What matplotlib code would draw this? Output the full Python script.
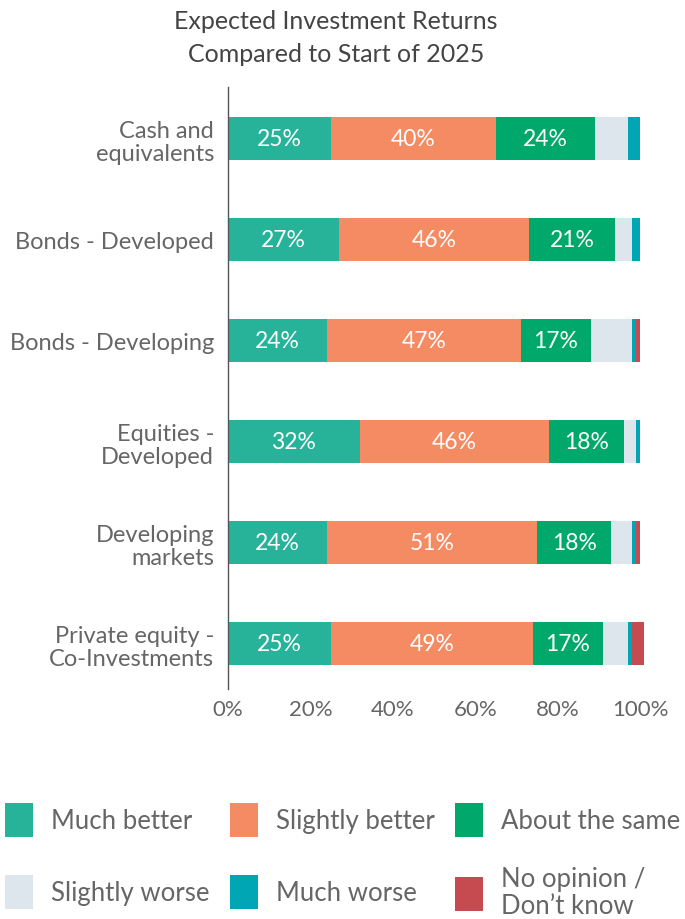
import matplotlib.pyplot as plt
import numpy as np

# Expected investment returns vs start of 2025 (percent of respondents)
categories = ["Cash and\nequivalents", "Bonds - Developed", "Bonds - Developing",
              "Equities -\nDeveloped", "Developing\nmarkets", "Private equity -\nCo-Investments"]
much_better = [25, 27, 24, 32, 24, 25]
slightly_better = [40, 46, 47, 46, 51, 49]
about_same = [24, 21, 17, 18, 18, 17]
slightly_worse = [8, 4, 10, 3, 5, 6]
much_worse = [3, 2, 1, 1, 1, 1]
no_opinion = [0, 0, 1, 0, 1, 3]

series_names = ["Much better", "Slightly better", "About the same",
                "Slightly worse", "Much worse", "No opinion /\nDon\u2019t know"]
colors = ["#26B39A", "#F58B62", "#00A86B", "#DCE6EC", "#00A6B4", "#C54B50"]
labelled = [True, True, True, False, False, False]

plt.rcParams['font.family'] = ['Lato', 'DejaVu Sans']
text_col = "#666666"

fig = plt.figure(figsize=(6.85, 9.2), dpi=100)
ax = fig.add_axes([228 / 685, 1 - 690 / 920, 412 / 685, 602 / 920])

y = np.arange(len(categories))
left = np.zeros(len(categories))
handles = []
for vals, name, col, lab in zip([much_better, slightly_better, about_same,
                                 slightly_worse, much_worse, no_opinion],
                                series_names, colors, labelled):
    vals = np.array(vals, dtype=float)
    # rounded shares can add up to 101%, so let bars run past the axis end
    b = ax.barh(y, vals, left=left, height=0.42, color=col, label=name,
                clip_on=False)
    handles.append(b)
    if lab:
        for yi, l, v in zip(y, left, vals):
            ax.text(l + v / 2, yi, f"{int(v)}%", ha="center", va="center",
                    color="white", fontsize=16.5)
    left += vals

ax.set_ylim(5.45, -0.51)
ax.set_xlim(0, 100)
ax.set_yticks(y)
ax.set_yticklabels(categories, fontsize=17, color=text_col, linespacing=1.15)
ax.set_xticks([0, 20, 40, 60, 80, 100])
ax.set_xticklabels(["0%", "20%", "40%", "60%", "80%", "100%"], fontsize=16,
                   color=text_col)
ax.tick_params(axis="y", length=0, pad=10)
ax.tick_params(axis="x", length=0, pad=7)
for s in ["top", "right", "bottom"]:
    ax.spines[s].set_visible(False)
ax.spines["left"].set_color("#555555")
ax.spines["left"].set_linewidth(1)

fig.text(336 / 685, 1 - 38 / 920, "Expected Investment Returns\nCompared to Start of 2025",
         ha="center", va="center", fontsize=18, color="#444444", linespacing=1.5)

# one legend per entry so rows line up even with the two-line label
col_x = [5, 230, 455]
row_y = [821, 893]
for i, (h, name) in enumerate(zip(handles, series_names)):
    leg = fig.legend([h], [name], loc="center left",
                     bbox_to_anchor=(col_x[i % 3] / 685, 1 - row_y[i // 3] / 920),
                     frameon=False, fontsize=18.5, handlelength=1.1, handleheight=1.65,
                     handletextpad=0.7, borderaxespad=0, borderpad=0)
    for t in leg.get_texts():
        t.set_color(text_col)
        t.set_linespacing(1.1)

fig.savefig("out.png", dpi=100)
